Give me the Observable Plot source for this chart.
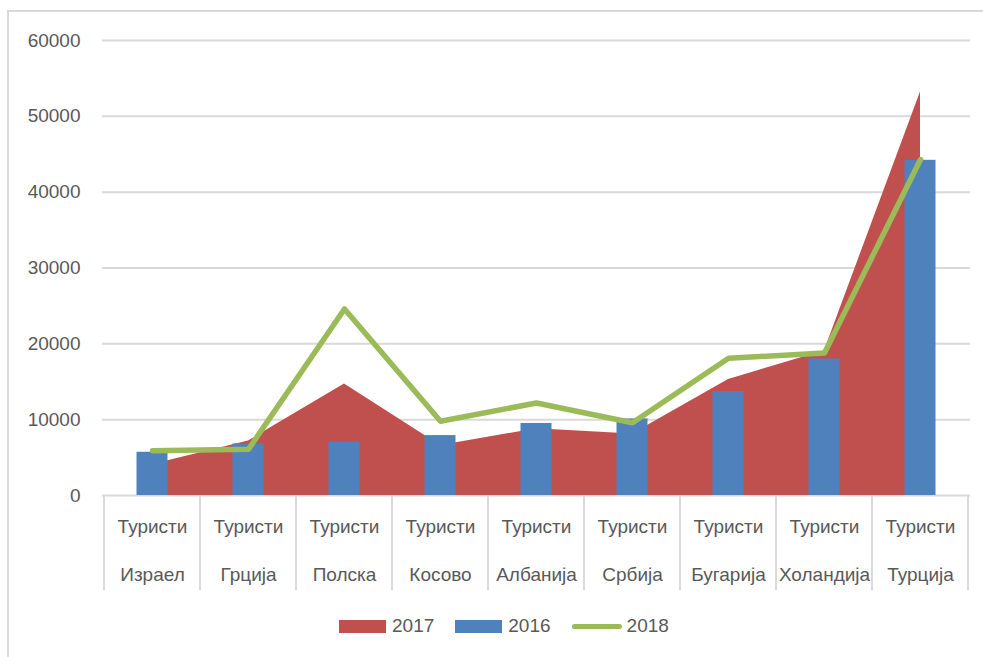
<!DOCTYPE html>
<html>
<head>
<meta charset="utf-8">
<script src="https://cdn.jsdelivr.net/npm/d3@7"></script>
<script src="https://cdn.jsdelivr.net/npm/@observablehq/plot@0.6"></script>
<style>
  body { margin: 0; background: #fff; font-family: "Liberation Sans", Arial, sans-serif; }
  #wrap { position: relative; width: 983px; height: 657px; overflow: hidden; background: #fff; }
  #frame { position: absolute; left: 7px; top: 10px; width: 1000px; height: 700px;
           border-left: 2px solid #d9d9d9; border-top: 2px solid #d9d9d9; }
  #chart { position: absolute; left: 0; top: 0; }
  #legend { position: absolute; left: 339px; top: 614px; display: flex; align-items: center;
            font-size: 19px; color: #595959; line-height: 24px; }
  .sw { width: 47px; height: 13px; margin-right: 6px; }
  .ln { width: 50px; height: 5px; border-radius: 3px; margin-right: 5px; }
  .lab { margin-right: 21px; }
</style>
</head>
<body>
<div id="wrap">
  <div id="frame"></div>
  <div id="chart"></div>
  <div id="legend"></div>
</div>
<script>
const countries = ["Израел", "Грција", "Полска", "Косово", "Албанија", "Србија", "Бугарија", "Холандија", "Турција"];
const prefix = "Туристи";
const values2016 = [5700, 6800, 7000, 7900, 9500, 10100, 13700, 18000, 44200];
const values2017 = [4100, 7200, 14700, 6600, 8800, 8100, 15300, 19100, 53200];
const values2018 = [5900, 6100, 24600, 9800, 12200, 9600, 18100, 18800, 44300];
const yTicks = [0, 10000, 20000, 30000, 40000, 50000, 60000];
const seriesNames = ["2017", "2016", "2018"];
const colors = { "2017": "#C0504D", "2016": "#4F81BD", "2018": "#9BBB59" };

const rows = countries.map((c, i) => ({ country: c, v2016: values2016[i], v2017: values2017[i], v2018: values2018[i] }));

// category separators drawn through the x band scale
function separators(index, scales, values, dimensions) {
  const x = scales.x, y = scales.y;
  const bw = x.bandwidth();
  const xs = countries.map(c => x(c)).concat([x(countries[countries.length - 1]) + bw]);
  const y0 = y(0);
  const g = d3.create("svg:g");
  g.selectAll("line").data(xs).join("line")
    .attr("x1", d => d).attr("x2", d => d)
    .attr("y1", y0).attr("y2", y0 + 95)
    .attr("stroke", "#d9d9d9").attr("stroke-width", 2);
  return g.node();
}

const chart = Plot.plot({
  width: 983,
  height: 657,
  marginLeft: 102,
  marginRight: 13,
  marginTop: 40,
  marginBottom: 162,
  style: { fontFamily: "'Liberation Sans', Arial, sans-serif", fontSize: "19px", color: "#595959", background: "transparent" },
  x: { domain: countries, padding: 0, axis: null },
  y: { domain: [0, 60000], ticks: yTicks, tickSize: 0, tickPadding: 22, label: null, tickFormat: d => String(d) },
  marks: [
    Plot.ruleY(yTicks, { stroke: "#d9d9d9", strokeWidth: 2 }),
    separators,
    Plot.areaY(rows, { x: "country", y: "v2017", fill: colors["2017"], curve: "linear" }),
    Plot.barY(rows, { x: "country", y: "v2016", fill: colors["2016"], insetLeft: 32.5, insetRight: 32.5 }),
    Plot.lineY(rows, { x: "country", y: "v2018", stroke: colors["2018"], strokeWidth: 5.5, strokeLinecap: "round", curve: "linear" }),
    Plot.text(countries, { x: d => d, text: d => prefix + "\n" + d, frameAnchor: "bottom", lineAnchor: "top", dy: 4, lineHeight: 2.5, fontSize: 19, fill: "#595959" })
  ]
});
document.getElementById("chart").appendChild(chart);

const legend = document.getElementById("legend");
seriesNames.forEach((s, i) => {
  const m = document.createElement("div");
  m.className = s === "2018" ? "ln" : "sw";
  m.style.background = colors[s];
  legend.appendChild(m);
  const t = document.createElement("span");
  t.className = "lab";
  t.textContent = s;
  if (i === seriesNames.length - 1) t.style.marginRight = "0";
  legend.appendChild(t);
});
</script>
</body>
</html>
